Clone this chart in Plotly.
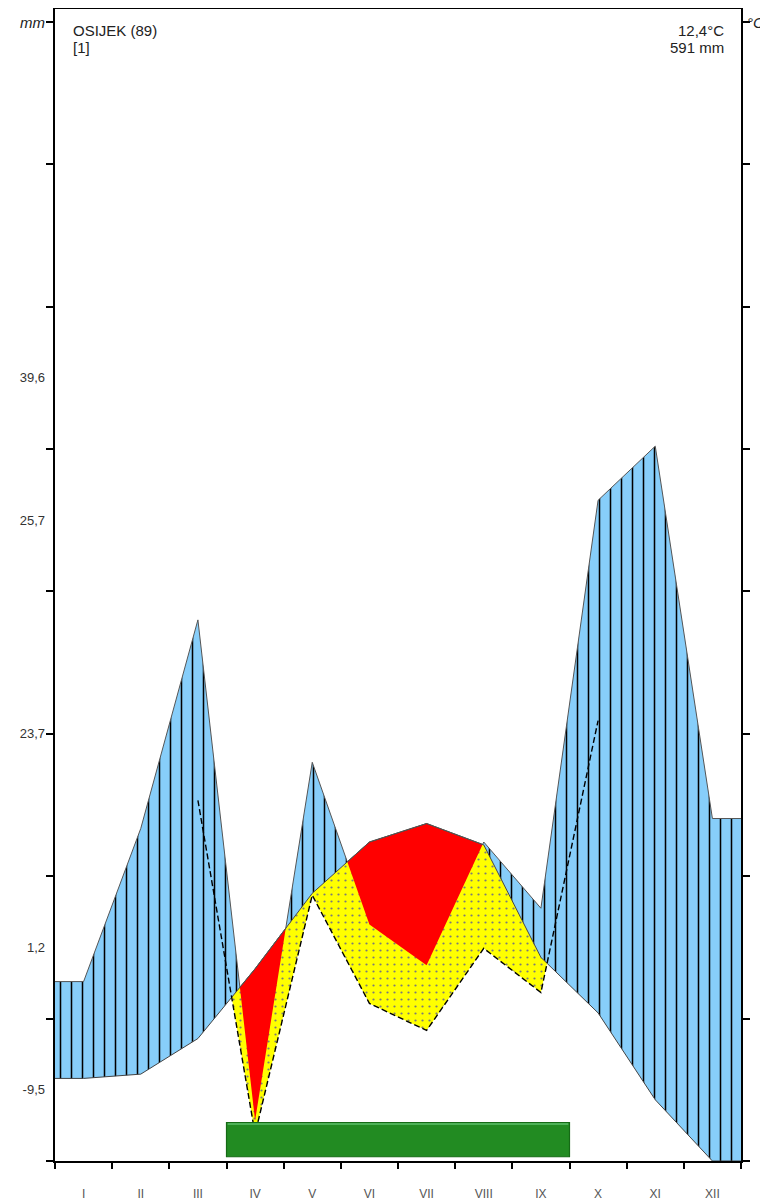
import plotly.graph_objects as go

# ---------------- data ----------------
months = ["I", "II", "III", "IV", "V", "VI", "VII", "VIII", "IX", "X", "XI", "XII"]
precip_mm = [25.2, 46.7, 76.0, 5.7, 56.0, 33.2, 27.5, 44.8, 35.5, 92.8, 100.4, 48.1]
temp_c = [5.8, 6.1, 8.6, 13.5, 18.8, 22.4, 23.7, 22.2, 14.3, 10.4, 4.3, 0.0]

station = "OSIJEK (89)"
source_ref = "[1]"
mean_temp_text = "12,4°C"
annual_precip_text = "591 mm"

side_labels = ["39,6", "25,7", "23,7", "1,2", "-9,5"]
side_label_pos_mm = [110, 90, 60, 30, 10]

veg_start_month = 3   # start of IV
veg_end_month = 9     # end of IX

# Walter-Lieth scales: 10 °C = 20 mm (main), 10 °C = 30 mm (dry curve)
MM_PER_C = 2.0
DRY_MM_PER_C = 3.0

# ---------------- derived curves ----------------
n = len(months)
xs = [0.0] + [i + 0.5 for i in range(n)] + [float(n)]


def pad(v):
    return [v[0]] + list(v) + [v[-1]]


P = pad(precip_mm)
T = pad([t * MM_PER_C for t in temp_c])
D = pad([p * MM_PER_C / DRY_MM_PER_C for p in precip_mm])


def with_crossings(x, a, b):
    X, A, B = [x[0]], [a[0]], [b[0]]
    for i in range(1, len(x)):
        d0 = a[i - 1] - b[i - 1]
        d1 = a[i] - b[i]
        if d0 * d1 < 0:
            t = d0 / (d0 - d1)
            xc = x[i - 1] + t * (x[i] - x[i - 1])
            yc = a[i - 1] + t * (a[i] - a[i - 1])
            X.append(xc); A.append(yc); B.append(yc)
        X.append(x[i]); A.append(a[i]); B.append(b[i])
    return X, A, B


fig = go.Figure()

BLUE = "#87CEFA"
YELLOW = "#FFFF00"
RED = "#FF0000"

# yellow (arid, dry-scale): between D and T where T > D
X1, Dd, Td = with_crossings(xs, D, T)
fig.add_trace(go.Scatter(x=X1, y=Dd, mode="lines", line=dict(width=0), hoverinfo="skip"))
fig.add_trace(go.Scatter(x=X1, y=[max(a, b) for a, b in zip(Dd, Td)], mode="lines",
                         line=dict(width=0), fill="tonexty", fillcolor=YELLOW,
                         fillpattern=dict(shape=".", size=7, solidity=0.08,
                                          fgcolor="#7a7a7a", bgcolor=YELLOW, fillmode="replace"),
                         hoverinfo="skip"))

# red (arid): between P and T where T > P
X2, Pp, Tp = with_crossings(xs, P, T)
fig.add_trace(go.Scatter(x=X2, y=Pp, mode="lines", line=dict(width=0), hoverinfo="skip"))
fig.add_trace(go.Scatter(x=X2, y=[max(a, b) for a, b in zip(Pp, Tp)], mode="lines",
                         line=dict(width=0), fill="tonexty", fillcolor=RED, hoverinfo="skip"))

# blue hatched (humid): between T and P where P > T
fig.add_trace(go.Scatter(x=X2, y=Tp, mode="lines", line=dict(width=0), hoverinfo="skip"))
fig.add_trace(go.Scatter(x=X2, y=[max(a, b) for a, b in zip(Pp, Tp)], mode="lines",
                         line=dict(width=0), fill="tonexty", fillcolor=BLUE,
                         fillpattern=dict(shape="|", size=11, solidity=0.14,
                                          fgcolor="black", bgcolor=BLUE, fillmode="replace"),
                         hoverinfo="skip"))

# outlines
fig.add_trace(go.Scatter(x=xs, y=T, mode="lines", line=dict(color="#444444", width=1),
                         hoverinfo="skip"))
fig.add_trace(go.Scatter(x=X2, y=[max(a, b) for a, b in zip(Pp, Tp)], mode="lines",
                         line=dict(color="#555555", width=1), hoverinfo="skip"))

# dashed dry-scale precipitation curve, drawn around arid months
arid = [temp_c[i] * MM_PER_C > precip_mm[i] * MM_PER_C / DRY_MM_PER_C for i in range(n)]
keep = [arid[i] or (i > 0 and arid[i - 1]) or (i < n - 1 and arid[i + 1]) for i in range(n)]
dx = [i + 0.5 for i in range(n) if keep[i]]
dy = [precip_mm[i] * MM_PER_C / DRY_MM_PER_C for i in range(n) if keep[i]]
fig.add_trace(go.Scatter(x=dx, y=dy, mode="lines",
                         line=dict(color="black", width=1.4, dash="6px,3px"), hoverinfo="skip"))

# dummy trace for label axes
fig.add_trace(go.Scatter(x=[None], y=[None], xaxis="x2", yaxis="y2", hoverinfo="skip"))

# vegetation period bar
fig.add_shape(type="rect", xref="x", yref="y", x0=veg_start_month, x1=veg_end_month,
              y0=0.6, y1=5.4, fillcolor="#228B22", line=dict(color="#156a15", width=1.2),
              layer="above")
fig.add_shape(type="line", xref="x", yref="y", x0=veg_start_month + 0.02, x1=veg_end_month - 0.02,
              y0=5.2, y1=5.2, line=dict(color="#5cbf6a", width=1.5), layer="above")

# page geometry (page has an 8px body margin)
YMAX = 161.8
font_main = "Liberation Sans, Arial, sans-serif"
TOP_PX, BOT_PX, LEFT_PX, RIGHT_PX = 9.0, 1160.5, 55.0, 741.0


def px(x):
    return (x - LEFT_PX) / (RIGHT_PX - LEFT_PX)


def py(y):
    return (BOT_PX - y) / (BOT_PX - TOP_PX)


fig.update_layout(
    width=760, height=1193,
    margin=dict(l=47, r=27, t=1, b=40, pad=0),
    paper_bgcolor="white", plot_bgcolor="white",
    showlegend=False, hovermode=False,
    font=dict(family=font_main, size=12, color="#333333"),
    xaxis=dict(range=[0, n], tickvals=list(range(n + 1)), showticklabels=False,
               ticks="outside", ticklen=6, tickwidth=2, tickcolor="black",
               showline=True, linewidth=2, linecolor="black", mirror=True,
               showgrid=False, zeroline=False, fixedrange=True, automargin=False),
    yaxis=dict(range=[0, YMAX], tickvals=list(range(0, 161, 20)), showticklabels=False,
               ticks="outside", ticklen=7, tickwidth=2, tickcolor="black",
               showline=True, linewidth=2, linecolor="black", mirror="ticks",
               showgrid=False, zeroline=False, fixedrange=True, automargin=False),
    xaxis2=dict(range=[0, n], overlaying="x", side="bottom",
                tickvals=[i + 0.5 for i in range(n)], ticktext=months,
                ticks="", ticklabelstandoff=24, showline=False, showgrid=False,
                zeroline=False, automargin=False, tickfont=dict(size=12, color="#555555")),
    yaxis2=dict(range=[0, YMAX], overlaying="y", side="left",
                tickvals=side_label_pos_mm, ticktext=side_labels,
                ticks="", ticklabelstandoff=9, showline=False, showgrid=False,
                zeroline=False, automargin=False, tickfont=dict(size=13, color="#333333")),
)

ann_font = dict(family=font_main, size=15, color="#222222")
fig.add_annotation(xref="paper", yref="paper", x=px(71), y=py(30), text=station,
                   xanchor="left", yanchor="middle", showarrow=False, font=ann_font)
fig.add_annotation(xref="paper", yref="paper", x=px(71), y=py(47), text=source_ref,
                   xanchor="left", yanchor="middle", showarrow=False, font=ann_font)
fig.add_annotation(xref="paper", yref="paper", x=px(726), y=py(30), text=mean_temp_text,
                   xanchor="right", yanchor="middle", showarrow=False, font=ann_font)
fig.add_annotation(xref="paper", yref="paper", x=px(726), y=py(47), text=annual_precip_text,
                   xanchor="right", yanchor="middle", showarrow=False, font=ann_font)
fig.add_annotation(xref="paper", yref="paper", x=px(47), y=py(22), text="<i>mm</i>",
                   xanchor="right", yanchor="middle", showarrow=False, font=ann_font)
fig.add_annotation(xref="paper", yref="paper", x=px(745), y=py(22), text="<i>°C</i>",
                   xanchor="left", yanchor="middle", showarrow=False, font=ann_font)

fig.write_html("out.html")
